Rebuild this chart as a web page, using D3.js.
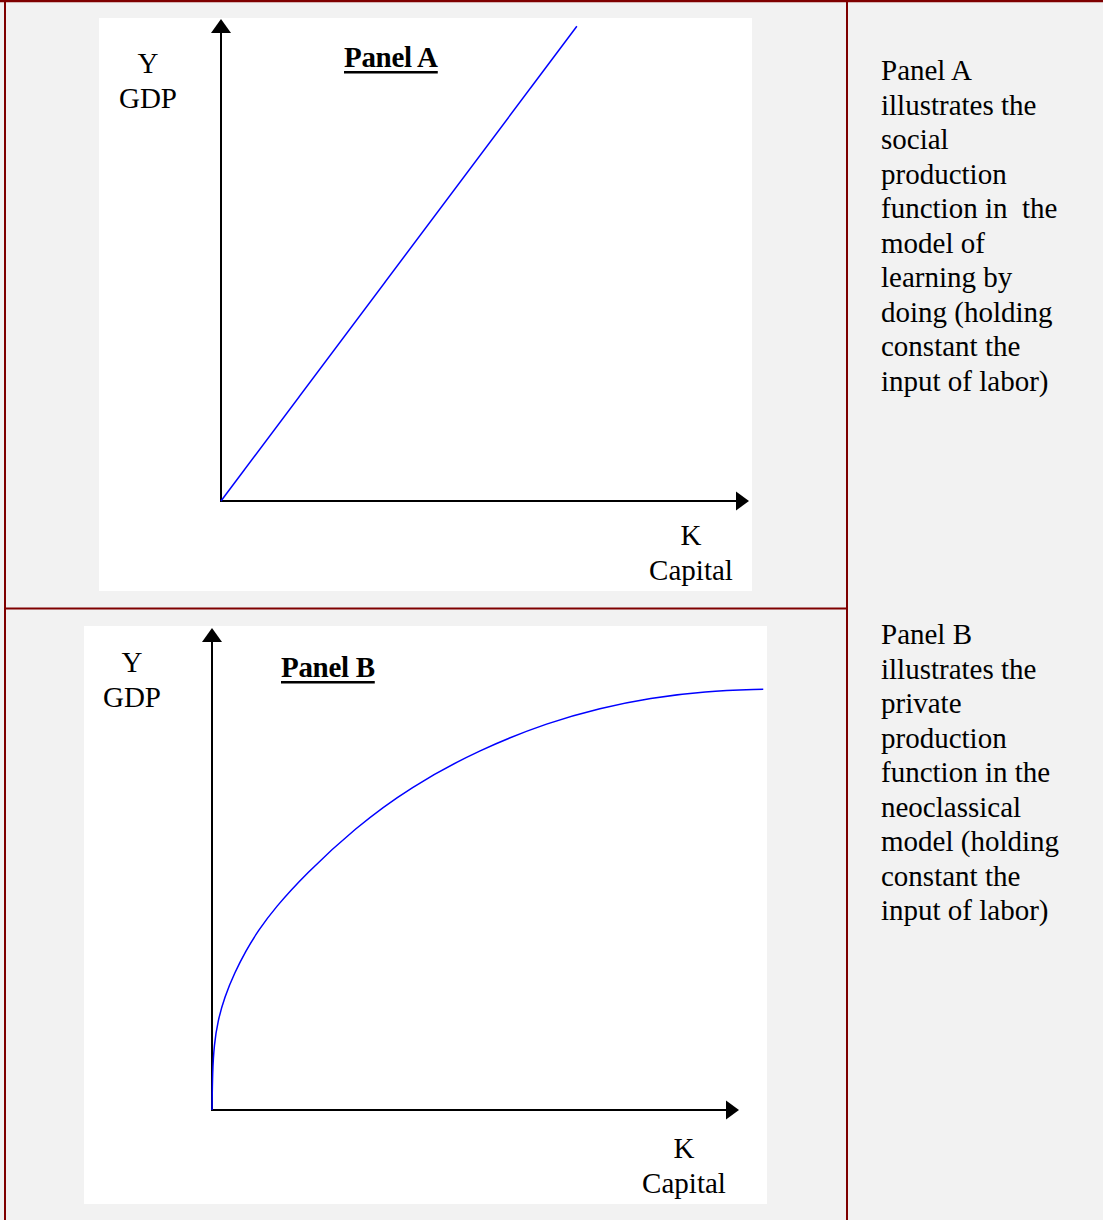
<!DOCTYPE html>
<html><head><meta charset="utf-8">
<script src="https://cdn.jsdelivr.net/npm/d3@7/dist/d3.min.js"></script>
<style>html,body{margin:0;padding:0;background:#f2f2f2;}</style>
</head><body>
<script>
// ---- data ----
const panelTitles = ["Panel A", "Panel B"];
const yLabels = ["Y", "GDP"];
const xLabels = ["K", "Capital"];
// Panel A: social production function (linear in K)
const socialK = [0, 67.4];
const socialY = [0, 98.5];
// Panel B: private production function (diminishing returns)
const privateK = [0, 0.1, 0.4, 1.1, 2.4, 4.3, 6.4, 8.8, 12, 17.6, 27.1, 37.6, 50.9, 64.1, 73.6, 83.1, 93.5, 104.6];
const privateY = [0, 8, 13.5, 18.5, 23.5, 28.5, 33, 37.3, 42, 48.8, 58.5, 67, 74.9, 80.5, 83.4, 85.5, 86.9, 87.3];
const captionA = ["Panel A", "illustrates the", "social", "production", "function in  the", "model of", "learning by", "doing (holding", "constant the", "input of labor)"];
const captionB = ["Panel B", "illustrates the", "private", "production", "function in the", "neoclassical", "model (holding", "constant the", "input of labor)"];

const W = 1103, H = 1220;
const svg = d3.select("body").append("svg").attr("width", W).attr("height", H);
const font = "'Liberation Serif', 'Times New Roman', serif";
const border = "#7f0000";

svg.append("rect").attr("width", W).attr("height", H).attr("fill", "#f2f2f2");

const panels = [
  {box:[99,18,653,573], x0:221, x1:749, y0:501, y1:19, lblX:148, lblY:73, ttlX:344, ttlY:67, kX:691, kY:545,
   K: socialK, Y: socialY, curve: d3.curveLinear, title: panelTitles[0]},
  {box:[84,626,683,578], x0:212, x1:739, y0:1110, y1:628, lblX:132, lblY:672, ttlX:281, ttlY:677, kX:684, kY:1158,
   K: privateK, Y: privateY, curve: d3.curveBasis, title: panelTitles[1]}
];

panels.forEach(p => {
  const g = svg.append("g");
  g.append("rect").attr("x", p.box[0]).attr("y", p.box[1]).attr("width", p.box[2]).attr("height", p.box[3]).attr("fill", "#fff");
  const x = d3.scaleLinear().domain([0, 100]).range([p.x0, p.x1]);
  const y = d3.scaleLinear().domain([0, 100]).range([p.y0, p.y1]);
  // axes
  g.append("line").attr("x1", x(0)).attr("y1", y(0)).attr("x2", x(0)).attr("y2", y(100) + 12)
    .attr("stroke", "#000").attr("stroke-width", 2);
  g.append("path").attr("d", `M${x(0)},${y(100)} L${x(0)-10},${y(100)+14} L${x(0)+10},${y(100)+14} Z`).attr("fill", "#000");
  g.append("line").attr("x1", x(0) - 1).attr("y1", y(0)).attr("x2", x(100) - 12).attr("y2", y(0))
    .attr("stroke", "#000").attr("stroke-width", 2);
  g.append("path").attr("d", `M${x(100)},${y(0)} L${x(100)-13},${y(0)-9.5} L${x(100)-13},${y(0)+9.5} Z`).attr("fill", "#000");
  // curve
  const pts = p.K.map((k, i) => [k, p.Y[i]]);
  g.append("path").datum(pts)
    .attr("d", d3.line().x(d => x(d[0])).y(d => y(d[1])).curve(p.curve))
    .attr("fill", "none").attr("stroke", "#0000ff").attr("stroke-width", 1.5);
  // labels
  yLabels.forEach((t, i) => g.append("text").attr("x", p.lblX).attr("y", p.lblY + i * 35)
    .attr("text-anchor", "middle").attr("font-family", font).attr("font-size", 29).attr("fill", "#000").text(t));
  xLabels.forEach((t, i) => g.append("text").attr("x", p.kX).attr("y", p.kY + i * 34.5)
    .attr("text-anchor", "middle").attr("font-family", font).attr("font-size", 29).attr("fill", "#000").text(t));
  const tt = g.append("text").attr("x", p.ttlX).attr("y", p.ttlY)
    .attr("font-family", font).attr("font-size", 29).attr("font-weight", "bold").attr("fill", "#000")
    .attr("letter-spacing", -0.3).text(p.title);
  const tw = tt.node().getComputedTextLength();
  g.append("rect").attr("x", p.ttlX).attr("y", p.ttlY + 4).attr("width", tw).attr("height", 2.5).attr("fill", "#000");
});

// captions
[[captionA, 80], [captionB, 644]].forEach(([lines, base]) => {
  lines.forEach((t, i) => svg.append("text").attr("x", 881).attr("y", base + i * 34.5)
    .attr("font-family", font).attr("font-size", 29).attr("fill", "#000")
    .attr("xml:space", "preserve").style("white-space", "pre").text(t));
});

// table borders
svg.append("line").attr("x1", 0).attr("y1", 1).attr("x2", W).attr("y2", 1).attr("stroke", border).attr("stroke-width", 2.5);
svg.append("line").attr("x1", 5).attr("y1", 0).attr("x2", 5).attr("y2", H).attr("stroke", border).attr("stroke-width", 2);
svg.append("line").attr("x1", 847).attr("y1", 0).attr("x2", 847).attr("y2", H).attr("stroke", border).attr("stroke-width", 2);
svg.append("line").attr("x1", 4).attr("y1", 608.5).attr("x2", 847).attr("y2", 608.5).attr("stroke", border).attr("stroke-width", 2);
</script>
</body></html>
